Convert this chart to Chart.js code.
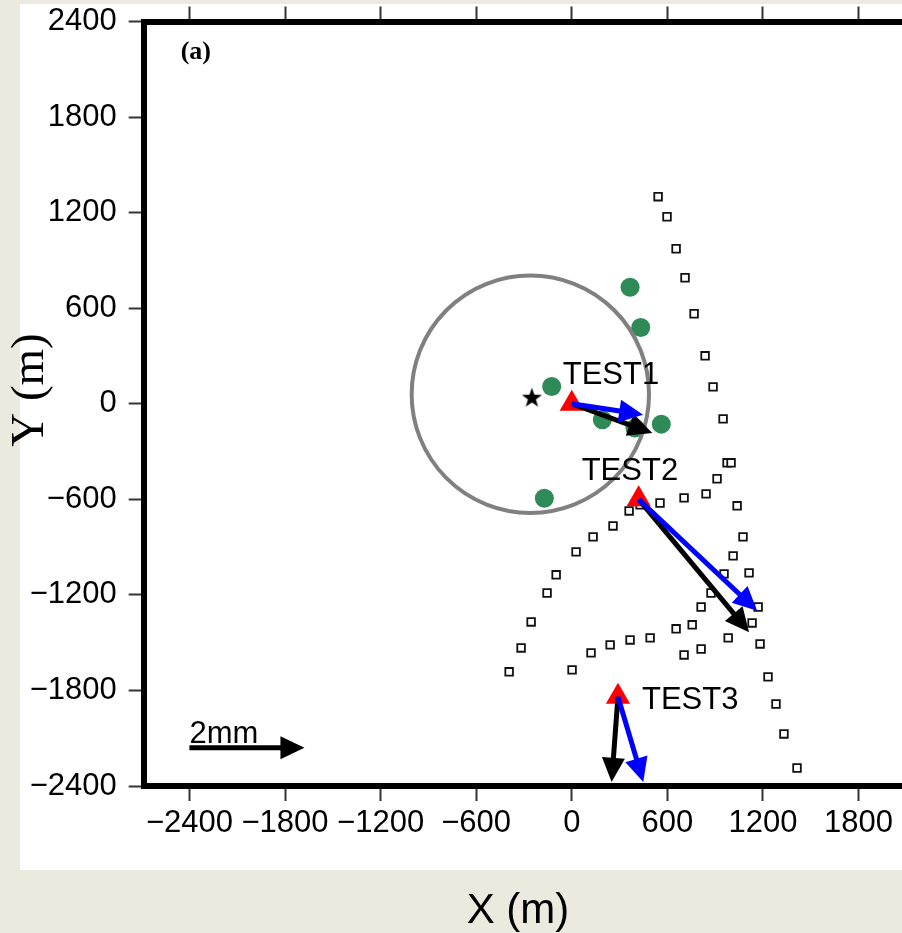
<!DOCTYPE html>
<html>
<head>
<meta charset="utf-8">
<script src="https://cdn.jsdelivr.net/npm/chart.js@4.4.0/dist/chart.umd.min.js"></script>
<style>
  html, body { margin: 0; padding: 0; overflow: hidden; background: #ECE9DF; }
  #panel { position: absolute; left: 20px; top: 4px; width: 882px; height: 866px; background: #fff; }
  #chart { position: absolute; left: 0; top: 0; }
</style>
</head>
<body>
<div id="panel"></div>
<canvas id="chart" width="902" height="933"></canvas>
<script>
// stations (m)
const stations = ['TEST1', 'TEST2', 'TEST3'];
const stationX = [0, 420, 290];
const stationY = [0, -600, -1840];

// displacement vectors (mm, east / north)
const blackE = [1.40, 1.92, -0.11];
const blackN = [-0.51, -2.31, -1.48];
const blueE = [1.24, 2.06, 0.44];
const blueN = [-0.19, -1.94, -1.48];
const MM = 361; // plot metres per mm of displacement

// scale bar
const barX = -2400;
const barY = -2160;
const barMM = 2;

// green events (m)
const eventX = [366, 433, -126, 192, 397, 562, -172];
const eventY = [732, 479, 108, -101, -153, -128, -593];

// epicentre + radius
const starX = -250;
const starY = 35;
const ringX = -260;
const ringY = 60;
const ringR = 745;

// open squares (m)
const gridX = [542, 598, 655, 711, 768, 837, 887, 950, 975, 1000, 912, 843, 705, 554, 429, 360,
  259, 134, 27, -98, -155, -255, -318, -393, 1038, 1075, 1013, 1113, 956, 874, 812, 1170,
  1132, 756, 655, 982, 1182, 812, 705, 492, 366, 241, 121, 2, 1232, 1282, 1332, 1414];
const gridY = [1300, 1174, 973, 791, 565, 301, 106, -95, -371, -371, -471, -566, -591, -623, -635, -673,
  -767, -836, -930, -1074, -1188, -1370, -1533, -1683, -641, -836, -955, -1062, -1068, -1188, -1276, -1276,
  -1376, -1388, -1413, -1470, -1508, -1540, -1577, -1470, -1483, -1514, -1564, -1671, -1715, -1885, -2073, -2287];

// axes
const xMin = -2687, xMax = 2073;
const yMin = -2400, yMax = 2400;
const xTicks = [-2400, -1800, -1200, -600, 0, 600, 1200, 1800];
const yTicks = [-2400, -1800, -1200, -600, 0, 600, 1200, 1800, 2400];

const SANS = '"Liberation Sans", Arial, sans-serif';
const SERIF = '"Liberation Serif", "Times New Roman", serif';

function minusLabel(v) {
  return v < 0 ? '\u2212' + Math.abs(v) : '' + v;
}

function pts(xs, ys) {
  return xs.map((x, i) => ({ x: x, y: ys[i] }));
}

function setTicks(list) {
  return function (s) { s.ticks = list.map(v => ({ value: v })); };
}

// fixed axis box size, no extra label padding pushed onto the plot area
function fixSize(w, h) {
  return function (s) {
    if (w !== null) s.width = w;
    if (h !== null) s.height = h;
    s.paddingLeft = s.paddingRight = s.paddingTop = s.paddingBottom = 0;
  };
}

function starImage(R) {
  var c = document.createElement('canvas');
  c.width = c.height = 2 * R + 2;
  var g = c.getContext('2d');
  g.translate(R + 1, R + 1);
  g.beginPath();
  for (var i = 0; i < 10; i++) {
    var r = i % 2 ? R * 0.4 : R;
    var a = -Math.PI / 2 + i * Math.PI / 5;
    g.lineTo(r * Math.cos(a), r * Math.sin(a));
  }
  g.closePath();
  g.fillStyle = '#000';
  g.fill();
  return c;
}

function drawArrow(ctx, x0, y0, x1, y1, color) {
  var ang = Math.atan2(y1 - y0, x1 - x0);
  var c = Math.cos(ang), s = Math.sin(ang);
  var headLen = 24, headW = 11.5;
  var bx = x1 - headLen * c, by = y1 - headLen * s;
  ctx.strokeStyle = color;
  ctx.lineWidth = 5;
  ctx.lineCap = 'butt';
  ctx.beginPath();
  ctx.moveTo(x0, y0);
  ctx.lineTo(bx + 2 * c, by + 2 * s);
  ctx.stroke();
  ctx.fillStyle = color;
  ctx.beginPath();
  ctx.moveTo(x1, y1);
  ctx.lineTo(bx + headW * s, by - headW * c);
  ctx.lineTo(bx - headW * s, by + headW * c);
  ctx.closePath();
  ctx.fill();
}

// arrows + text labels on top of the datasets
const labelOffset = [[-9, -20], [-57, -19], [24, 12]];
const overlay = {
  id: 'overlay',
  afterDatasetsDraw(chart) {
    var ctx = chart.ctx;
    var xs = chart.scales.x, ys = chart.scales.y;
    ctx.save();
    for (var i = 0; i < stations.length; i++) {
      var px = xs.getPixelForValue(stationX[i]);
      var py = ys.getPixelForValue(stationY[i]);
      drawArrow(ctx, px, py,
        xs.getPixelForValue(stationX[i] + blackE[i] * MM),
        ys.getPixelForValue(stationY[i] + blackN[i] * MM), '#000');
      drawArrow(ctx, px, py,
        xs.getPixelForValue(stationX[i] + blueE[i] * MM),
        ys.getPixelForValue(stationY[i] + blueN[i] * MM), '#0000ff');
    }
    // scale bar
    var bx0 = xs.getPixelForValue(barX), by0 = ys.getPixelForValue(barY);
    drawArrow(ctx, bx0, by0, xs.getPixelForValue(barX + barMM * MM), by0, '#000');

    ctx.fillStyle = '#000';
    ctx.textBaseline = 'alphabetic';
    ctx.textAlign = 'left';
    ctx.font = '31px ' + SANS;
    for (var j = 0; j < stations.length; j++) {
      ctx.fillText(stations[j],
        xs.getPixelForValue(stationX[j]) + labelOffset[j][0],
        ys.getPixelForValue(stationY[j]) + labelOffset[j][1]);
    }
    ctx.fillText(barMM + 'mm', bx0, by0 - 5);

    var area = chart.chartArea;
    ctx.font = 'bold 26px ' + SERIF;
    ctx.fillText('(a)', area.left + 37, area.top + 37);

    // axis titles
    ctx.textAlign = 'center';
    ctx.font = '42px ' + SANS;
    ctx.fillText('X (m)', 518, 923);
    ctx.translate(43, 390);
    ctx.rotate(-Math.PI / 2);
    ctx.font = '47px ' + SERIF;
    ctx.fillText('Y (m)', 0, 0);
    ctx.restore();
  }
};

const tickFont = { family: SANS, size: 31 };
const tickGrid = { drawOnChartArea: false, tickLength: 15, tickWidth: 2, tickColor: '#333' };
const frame = { color: '#000', width: 6 };

new Chart(document.getElementById('chart'), {
  type: 'scatter',
  data: {
    datasets: [
      {
        label: 'Stations',
        data: pts(stationX, stationY),
        pointStyle: 'triangle',
        pointRadius: 14,
        backgroundColor: '#ff0000',
        borderWidth: 0
      },
      {
        label: 'Epicentre',
        data: [{ x: starX, y: starY }],
        pointStyle: starImage(10.5),
        pointRadius: 10
      },
      {
        label: 'Radius',
        data: [{ x: ringX, y: ringY }],
        pointStyle: 'circle',
        pointRadius: function (c) {
          var s = c.chart.scales.x;
          return s.getPixelForValue(ringX + ringR) - s.getPixelForValue(ringX);
        },
        backgroundColor: 'rgba(0,0,0,0)',
        borderColor: '#808080',
        borderWidth: 4
      },
      {
        label: 'Events',
        data: pts(eventX, eventY),
        pointStyle: 'circle',
        pointRadius: 9.5,
        backgroundColor: '#2e8b57',
        borderWidth: 0
      },
      {
        label: 'Grid',
        data: pts(gridX, gridY),
        pointStyle: 'rect',
        pointRadius: 5.4,
        backgroundColor: '#fff',
        borderColor: '#111',
        borderWidth: 1.8
      }
    ]
  },
  options: {
    responsive: false,
    animation: false,
    events: [],
    layout: { padding: 0, autoPadding: false },
    plugins: { legend: { display: false }, tooltip: { enabled: false } },
    scales: {
      x: {
        type: 'linear', position: 'bottom', bounds: 'data', min: xMin, max: xMax,
        afterBuildTicks: setTicks(xTicks),
        afterFit: fixSize(null, 147),
        border: frame,
        grid: tickGrid,
        ticks: {
          autoSkip: false, maxRotation: 0,
          padding: 4, color: '#000', font: tickFont, callback: minusLabel
        }
      },
      x2: {
        type: 'linear', position: 'top', bounds: 'data', min: xMin, max: xMax,
        afterBuildTicks: setTicks(xTicks),
        afterFit: fixSize(null, 21.5),
        border: frame,
        grid: tickGrid,
        ticks: { display: false }
      },
      y: {
        type: 'linear', position: 'left', bounds: 'data', min: yMin, max: yMax,
        afterBuildTicks: setTicks(yTicks),
        afterFit: fixSize(143.7, null),
        border: frame,
        grid: tickGrid,
        ticks: {
          autoSkip: false,
          padding: 12, color: '#000', font: tickFont, callback: minusLabel
        }
      }
    }
  },
  plugins: [overlay]
});
</script>
</body>
</html>
